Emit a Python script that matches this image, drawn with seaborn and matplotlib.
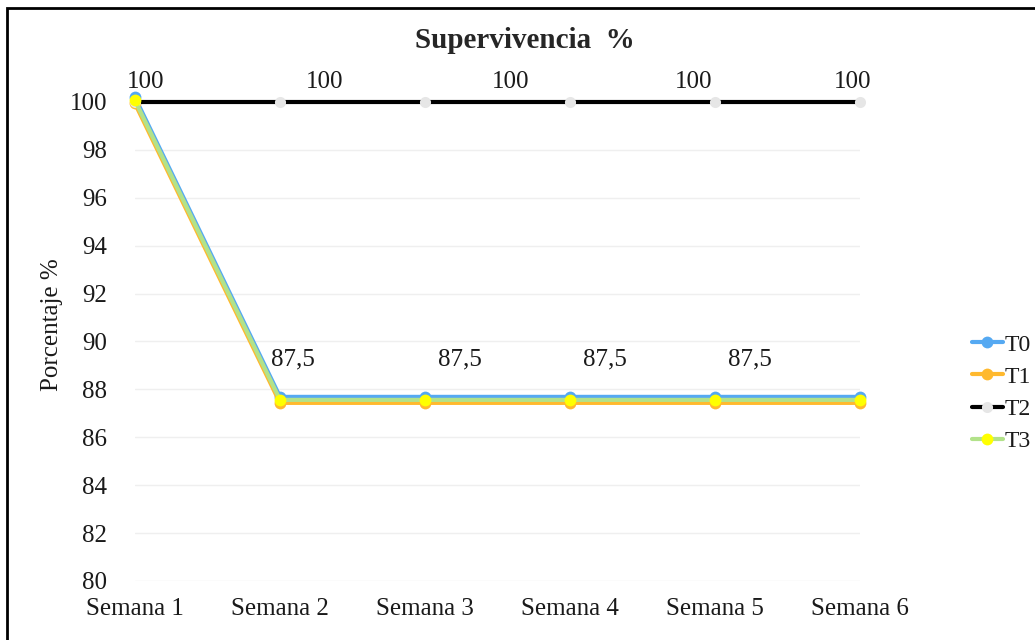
import numpy as np
import pandas as pd
import matplotlib
matplotlib.use("Agg")
import matplotlib.pyplot as plt
import seaborn as sns
from matplotlib.transforms import offset_copy
from matplotlib.lines import Line2D
from matplotlib.patches import Rectangle

# ---------------- data ----------------
semanas = ["Semana 1", "Semana 2", "Semana 3", "Semana 4", "Semana 5", "Semana 6"]
t0 = [100, 87.5, 87.5, 87.5, 87.5, 87.5]
t1 = [100, 87.5, 87.5, 87.5, 87.5, 87.5]
t2 = [100, 100, 100, 100, 100, 100]
t3 = [100, 87.5, 87.5, 87.5, 87.5, 87.5]
series_names = ["T0", "T1", "T2", "T3"]
y_ticks = [80, 82, 84, 86, 88, 90, 92, 94, 96, 98, 100]
title = "Supervivencia  %"
ylabel = "Porcentaje %"
labels_top = ["100", "100", "100", "100", "100"]      # labels of T2
labels_low = ["87,5", "87,5", "87,5", "87,5"]         # labels of T0

# ---------------- style ----------------
sns.set_theme(style="white")
plt.rcParams['font.family'] = ['Liberation Serif', 'DejaVu Serif']

fig = plt.figure(figsize=(10.35, 6.4), dpi=100)
W, H = 1035, 640
ax = fig.add_axes([135 / W, 1 - 581 / H, (860 - 135) / W, (581 - 102) / H])

x = np.arange(len(semanas))
series = [t0, t1, t2, t3]
styles = [
    dict(color="#55A9F2", mfc="#55A9F2", mec="#55A9F2", lw=3.0, ms=8.5, dy=4.5),
    dict(color="#FFB92E", mfc="#FFB92E", mec="#FFB92E", lw=3.0, ms=8.5, dy=-1.5),
    dict(color="#000000", mfc="#E6E6E6", mec="#E6E6E6", lw=3.0, ms=8.0, dy=0.0),
    dict(color="#B2E28A", mfc="#FFFF00", mec="#FFFF00", lw=3.0, ms=8.5, dy=1.5),
]

handles = []
for name, vals, st in zip(series_names, series, styles):
    df = pd.DataFrame({"x": x, "y": vals})
    n_before = len(ax.lines)
    sns.lineplot(data=df, x="x", y="y", ax=ax, color=st["color"], linewidth=st["lw"],
                 marker="o", markersize=st["ms"], markerfacecolor=st["mfc"],
                 markeredgecolor=st["mec"], markeredgewidth=0, clip_on=False,
                 legend=False)
    line = ax.lines[n_before]
    line.set_transform(offset_copy(ax.transData, fig=fig, x=0, y=st["dy"], units="dots"))
    handles.append(Line2D([], [], color=st["color"], lw=st["lw"], marker="o",
                          markersize=st["ms"], markerfacecolor=st["mfc"],
                          markeredgecolor=st["mec"], markeredgewidth=0))

ax.set_xlim(0, len(semanas) - 1)
ax.set_ylim(80, 100)
ax.set_xticks(x)
ax.set_xticklabels(semanas)
ax.set_yticks(y_ticks)
ax.set_xlabel("")
ax.set_ylabel("")
ax.tick_params(axis="y", length=0, pad=20, labelsize=18, labelcolor="#1a1a1a")
ax.tick_params(axis="x", length=0, pad=12, labelsize=18, labelcolor="#1a1a1a")
ax.yaxis.grid(True, color="#EFEFEF", lw=1)
ax.xaxis.grid(False)
for s in ax.spines.values():
    s.set_visible(False)

# data labels
top_offsets = [0.07, 0.31, 0.59, 0.85, 0.95]
top_idx = [0, 1, 2, 3, 4]
for i, (lab, off) in enumerate(zip(labels_top, top_offsets)):
    ax.text(top_idx[i] + off, t2[top_idx[i]] + 0.84, lab, ha="center", va="center",
            fontsize=18, color="#1a1a1a")
low_offsets = [0.09, 0.24, 0.24, 0.24]
low_idx = [1, 2, 3, 4]
for i, (lab, off) in enumerate(zip(labels_low, low_offsets)):
    ax.text(low_idx[i] + off, t0[low_idx[i]] + 1.73, lab, ha="center", va="center",
            fontsize=18, color="#1a1a1a")

fig.text(525 / W, 1 - 40 / H, title, ha="center", va="center", fontsize=21,
         fontweight="bold")
fig.text(52 / W, 1 - 325 / H, ylabel, ha="center", va="center", rotation=90, fontsize=18,
         color="#1a1a1a")

ax.legend(handles, series_names, loc="center left",
          bbox_to_anchor=(972 / W, 1 - 393 / H), bbox_transform=fig.transFigure,
          frameon=False, fontsize=17, handlelength=1.3, labelspacing=0.45,
          handletextpad=0.1, borderaxespad=0, borderpad=0, labelcolor="#1a1a1a")

fig.patches.append(Rectangle((7 / W, -0.05), 1.0, 1.05 - 8 / H, transform=fig.transFigure,
                             fill=False, ec="black", lw=2, clip_on=False))

fig.savefig("out.png", dpi=100)
